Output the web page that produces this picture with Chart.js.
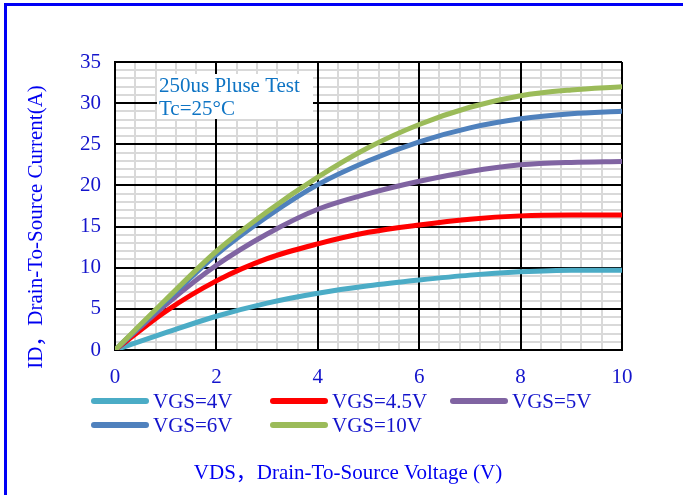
<!DOCTYPE html>
<html>
<head>
<meta charset="utf-8">
<script src="https://cdn.jsdelivr.net/npm/chart.js@4.4.1/dist/chart.umd.min.js"></script>
<style>
  html, body { margin: 0; padding: 0; background: #fff; overflow: hidden; }
  canvas { display: block; }
</style>
</head>
<body>
<canvas id="c" width="683" height="495"></canvas>
<script>
// Output characteristics: drain current vs drain-source voltage
const vds = [0, 1, 2, 3, 4, 5, 6, 7, 8, 9, 10];
const seriesNames = ['VGS=4V', 'VGS=4.5V', 'VGS=5V', 'VGS=6V', 'VGS=10V'];
const idVgs4 = [0, 2.1, 4.1, 5.7, 6.9, 7.8, 8.5, 9.1, 9.5, 9.7, 9.7];
const idVgs45 = [0, 4.7, 8.4, 11.1, 12.9, 14.3, 15.2, 15.9, 16.3, 16.4, 16.4];
const idVgs5 = [0, 5.5, 10.3, 14.1, 17.1, 19.0, 20.5, 21.7, 22.5, 22.8, 22.9];
const idVgs6 = [0, 5.9, 11.6, 16.2, 20.1, 23.0, 25.3, 27.0, 28.1, 28.7, 29.0];
const idVgs10 = [0, 6.1, 12.0, 16.8, 21.0, 24.6, 27.4, 29.5, 30.9, 31.6, 32.0];
const xMajorTicks = [0, 2, 4, 6, 8, 10];
const yMajorTicks = [0, 5, 10, 15, 20, 25, 30, 35];
const noteLines = ['250us Pluse Test', 'Tc=25°C'];
const xTitle = 'VDS，Drain-To-Source Voltage (V)';
const yTitle = 'ID，Drain-To-Source Current(A)';

const seriesValues = [idVgs4, idVgs45, idVgs5, idVgs6, idVgs10];
const seriesColors = ['#4BACC6', '#FF0000', '#8064A2', '#4F81BD', '#9BBB59'];

const SERIF = "'Liberation Serif', 'Noto Sans CJK SC', 'Times New Roman', serif";
const tickFont = { family: SERIF, size: 21 };
const tickColor = '#1414CC';
const titleColor = '#0000F0';

// Page frame, note box, axis titles and two-row legend
const decorations = {
  id: 'decorations',
  beforeDraw(chart) {
    const ctx = chart.ctx;
    ctx.save();
    ctx.fillStyle = '#fff';
    ctx.fillRect(0, 0, chart.width, chart.height);
    ctx.fillStyle = '#0000F5';
    ctx.fillRect(4, 3, chart.width - 4, 3);
    ctx.fillRect(4, 3, 3, chart.height - 3);
    ctx.restore();
  },
  beforeDatasetsDraw(chart) {
    const ctx = chart.ctx;
    ctx.save();
    ctx.fillStyle = '#fff';
    ctx.fillRect(157, 74, 156, 45);
    ctx.fillStyle = '#0E74C4';
    ctx.font = `21px ${SERIF}`;
    ctx.textBaseline = 'alphabetic';
    ctx.textAlign = 'left';
    ctx.fillText(noteLines[0], 159, 92);
    ctx.fillText(noteLines[1], 159, 115);
    ctx.restore();
  },
  afterDraw(chart) {
    const ctx = chart.ctx;
    ctx.save();
    ctx.font = `21px ${SERIF}`;
    ctx.fillStyle = titleColor;
    ctx.textAlign = 'center';
    ctx.textBaseline = 'middle';
    ctx.fillText(xTitle, 348, 473);
    ctx.translate(36, 227);
    ctx.rotate(-Math.PI / 2);
    ctx.fillText(yTitle, 0, 0);
    ctx.restore();

    // legend: three columns, two rows
    const colX = [94, 273, 453];
    const rowY = [401, 425];
    const lineLen = 52;
    ctx.save();
    ctx.font = `21px ${SERIF}`;
    ctx.textAlign = 'left';
    ctx.textBaseline = 'middle';
    chart.data.datasets.forEach((ds, i) => {
      const x = colX[i % 3];
      const y = rowY[Math.floor(i / 3)];
      ctx.strokeStyle = ds.borderColor;
      ctx.lineWidth = 6;
      ctx.lineCap = 'round';
      ctx.beginPath();
      ctx.moveTo(x, y);
      ctx.lineTo(x + lineLen, y);
      ctx.stroke();
      ctx.fillStyle = tickColor;
      ctx.fillText(ds.label, x + lineLen + 7, y + 1);
    });
    ctx.restore();
  }
};

const isMajor = (v, list) => list.some(t => Math.abs(t - v) < 1e-6);

new Chart(document.getElementById('c'), {
  type: 'line',
  data: {
    datasets: seriesNames.map((name, i) => ({
      label: name,
      data: vds.map((x, j) => ({ x, y: seriesValues[i][j] })),
      borderColor: seriesColors[i],
      backgroundColor: seriesColors[i],
      borderWidth: 5,
      pointRadius: 0,
      fill: false,
      cubicInterpolationMode: 'monotone',
      borderCapStyle: 'round',
      borderJoinStyle: 'round',
      order: seriesNames.length - i,
      xAxisID: 'x',
      yAxisID: 'y'
    }))
  },
  options: {
    responsive: false,
    animation: false,
    events: [],
    layout: { padding: { left: 0, right: 61, top: 62, bottom: 0 } },
    plugins: { legend: { display: false }, tooltip: { enabled: false }, title: { display: false } },
    scales: {
      xMinor: {
        type: 'linear', position: 'bottom', min: 0, max: 10,
        ticks: { display: false, stepSize: 0.4 },
        grid: { color: '#D9D9D9', lineWidth: 2, drawTicks: false, z: -2 },
        border: { display: false },
        afterFit: s => { s.height = 0; }
      },
      yMinor: {
        type: 'linear', position: 'left', min: 0, max: 35,
        ticks: { display: false, stepSize: 1 },
        grid: { color: '#D9D9D9', lineWidth: 2, drawTicks: false, z: -2 },
        border: { display: false },
        afterFit: s => { s.width = 0; }
      },
      x: {
        type: 'linear', position: 'bottom', min: 0, max: 10,
        ticks: {
          stepSize: 2, autoSkip: false, maxRotation: 0, padding: 15,
          color: tickColor, font: tickFont,
          callback: v => isMajor(v, xMajorTicks) ? String(v) : ''
        },
        grid: { color: '#000', lineWidth: 2, drawTicks: false, z: -1 },
        border: { color: '#000', width: 2, z: -1 },
        afterFit: s => { s.height = 145; }
      },
      y: {
        type: 'linear', position: 'left', min: 0, max: 35,
        ticks: {
          stepSize: 5, autoSkip: false, padding: 14,
          color: tickColor, font: tickFont,
          callback: v => isMajor(v, yMajorTicks) ? String(v) : ''
        },
        grid: { color: '#000', lineWidth: 2, drawTicks: false, z: -1 },
        border: { color: '#000', width: 2, z: -1 },
        afterFit: s => { s.width = 115; }
      }
    }
  },
  plugins: [decorations]
});
</script>
</body>
</html>
